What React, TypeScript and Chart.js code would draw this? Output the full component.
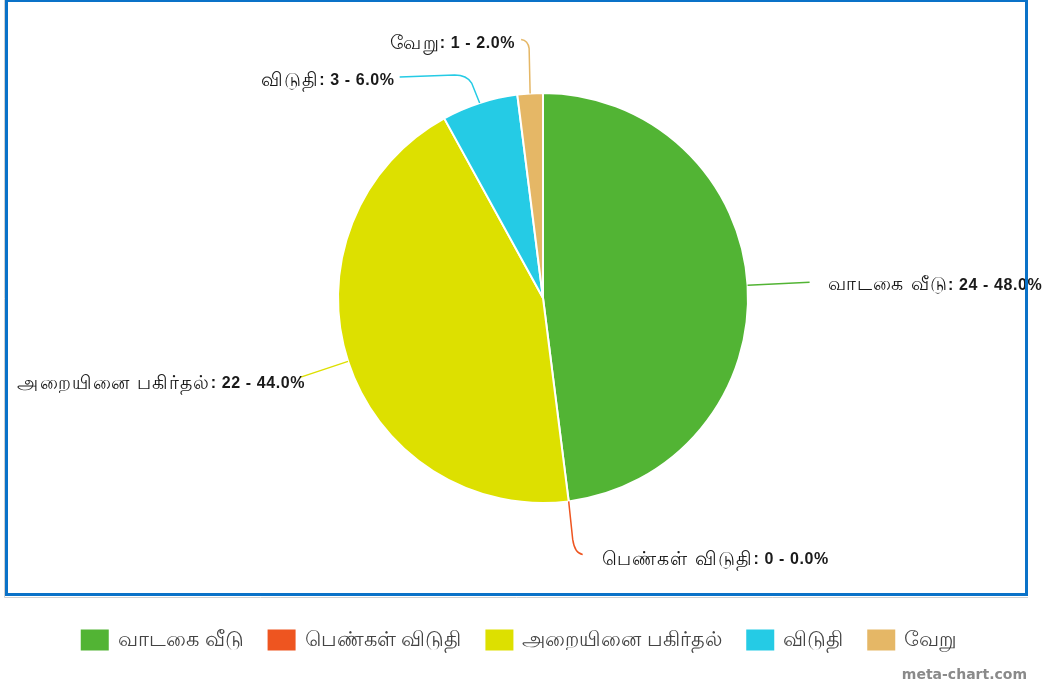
import React, { useEffect, useRef } from "react";
import { Chart, registerables } from "chart.js";

Chart.register(...registerables);

// ---- data ----
const categories = ["வாடகை வீடு", "பெண்கள் விடுதி", "அறையினை பகிர்தல்", "விடுதி", "வேறு"];
const counts = [24, 0, 22, 3, 1];
const sliceColors = ["#52b434", "#ee5520", "#dde000", "#25cbe5", "#e5b766"];

// ---- leader-line layout (offsets from each slice's outer-edge anchor) ----
type Leader = {
  line: [number, number];
  curve?: { c: [number, number]; e: [number, number] };
  tail?: [number, number];
  label: { dx: number; dy: number; align: "left" | "right" };
};
const leaderLayout: Leader[] = [
  { line: [62, -3], label: { dx: 80, dy: 0, align: "left" } },
  { line: [4, 38], curve: { c: [6, 52], e: [14, 53] }, label: { dx: 33, dy: 58, align: "left" } },
  { line: [-48, 16], label: { dx: -43, dy: 22, align: "right" } },
  { line: [-8, -20], curve: { c: [-13, -28], e: [-25, -28] }, tail: [-80, -26], label: { dx: -85, dy: -22, align: "right" } },
  { line: [-1, -45], curve: { c: [-2, -53], e: [-9, -54] }, label: { dx: -15, dy: -50, align: "right" } },
];

const LABEL_FONT = "19px 'Liberation Sans', Arial, 'Noto Sans', sans-serif";
const LABEL_FONT_BOLD = "bold 16px 'Liberation Sans', Arial, 'Noto Sans', sans-serif";

const labelsPlugin = {
  id: "leaderLabels",
  afterDatasetsDraw(chart: any) {
    const ctx: CanvasRenderingContext2D = chart.ctx;
    const meta = chart.getDatasetMeta(0);
    const data: number[] = chart.data.datasets[0].data;
    const total = data.reduce((a, b) => a + b, 0);
    meta.data.forEach((arc: any, i: number) => {
      const p = arc.getProps(["x", "y", "startAngle", "endAngle", "outerRadius"], true);
      const mid = (p.startAngle + p.endAngle) / 2;
      const ax = p.x + Math.cos(mid) * p.outerRadius;
      const ay = p.y + Math.sin(mid) * p.outerRadius;
      const L = leaderLayout[i];
      ctx.save();
      ctx.strokeStyle = sliceColors[i];
      ctx.lineWidth = 1.5;
      ctx.beginPath();
      ctx.moveTo(ax, ay);
      ctx.lineTo(ax + L.line[0], ay + L.line[1]);
      if (L.curve) {
        ctx.quadraticCurveTo(ax + L.curve.c[0], ay + L.curve.c[1], ax + L.curve.e[0], ay + L.curve.e[1]);
      }
      if (L.tail) ctx.lineTo(ax + L.tail[0], ay + L.tail[1]);
      ctx.stroke();

      const name = String(chart.data.labels[i]);
      const valuePart = ": " + data[i] + " - " + ((data[i] / total) * 100).toFixed(1) + "%";
      ctx.textBaseline = "middle";
      ctx.textAlign = "left";
      ctx.fillStyle = "#1a1a1a";
      ctx.font = LABEL_FONT;
      (ctx as any).letterSpacing = "1.2px";
      const w1 = ctx.measureText(name).width;
      ctx.font = LABEL_FONT_BOLD;
      (ctx as any).letterSpacing = "0.6px";
      const w2 = ctx.measureText(valuePart).width;
      let x = ax + L.label.dx;
      const y = ay + L.label.dy;
      if (L.label.align === "right") x -= w1 + w2;
      ctx.font = LABEL_FONT;
      (ctx as any).letterSpacing = "1.2px";
      ctx.fillText(name, x, y);
      ctx.font = LABEL_FONT_BOLD;
      (ctx as any).letterSpacing = "0.6px";
      ctx.fillText(valuePart, x + w1, y);
      ctx.restore();
    });
  },
  afterDraw(chart: any) {
    const ctx: CanvasRenderingContext2D = chart.ctx;
    ctx.save();
    // frame
    ctx.strokeStyle = "#d0d0d0";
    ctx.lineWidth = 1;
    ctx.beginPath();
    ctx.moveTo(4.5, 0);
    ctx.lineTo(4.5, 597.5);
    ctx.lineTo(1028, 597.5);
    ctx.stroke();
    ctx.strokeStyle = "#0a72c8";
    ctx.lineWidth = 3;
    ctx.strokeRect(6.5, 0.5, 1020, 594);

    // legend
    const labels: string[] = chart.data.labels;
    ctx.font = "21px 'Liberation Sans', Arial, 'Noto Sans', sans-serif";
    ctx.textBaseline = "middle";
    ctx.textAlign = "left";
    const boxW = 28, boxH = 21, gapBox = 9, gapItem = 24;
    const widths = labels.map((l) => ctx.measureText(l).width);
    const totalW = widths.reduce((s, w) => s + boxW + gapBox + w, 0) + gapItem * (labels.length - 1);
    let x = 519 - totalW / 2;
    const cy = 640;
    labels.forEach((l, i) => {
      ctx.fillStyle = sliceColors[i];
      ctx.fillRect(x, cy - boxH / 2, boxW, boxH);
      ctx.fillStyle = "#444";
      ctx.fillText(l, x + boxW + gapBox, cy);
      x += boxW + gapBox + widths[i] + gapItem;
    });

    // credit
    ctx.font = "bold 14px 'DejaVu Sans', sans-serif";
    ctx.fillStyle = "#8a8a8a";
    ctx.textAlign = "right";
    ctx.fillText("meta-chart.com", 1027, 675);
    ctx.restore();
  },
};

export default function App() {
  const ref = useRef<HTMLCanvasElement | null>(null);
  useEffect(() => {
    if (!ref.current) return;
    const chart = new Chart(ref.current, {
      type: "pie",
      data: {
        labels: categories,
        datasets: [
          {
            data: counts,
            backgroundColor: sliceColors,
            borderColor: "#ffffff",
            borderWidth: 2,
          },
        ],
      },
      options: {
        responsive: false,
        animation: false,
        events: [],
        layout: { padding: { top: 92, bottom: 186, left: 337, right: 300 } },
        plugins: {
          legend: { display: false },
          tooltip: { enabled: false },
        },
      },
      plugins: [labelsPlugin],
    });
    return () => chart.destroy();
  }, []);
  return (
    <div style={{ position: "fixed", left: 0, top: 0, width: 1049, height: 690, background: "#fff" }}>
      <canvas ref={ref} width={1049} height={690} />
    </div>
  );
}
